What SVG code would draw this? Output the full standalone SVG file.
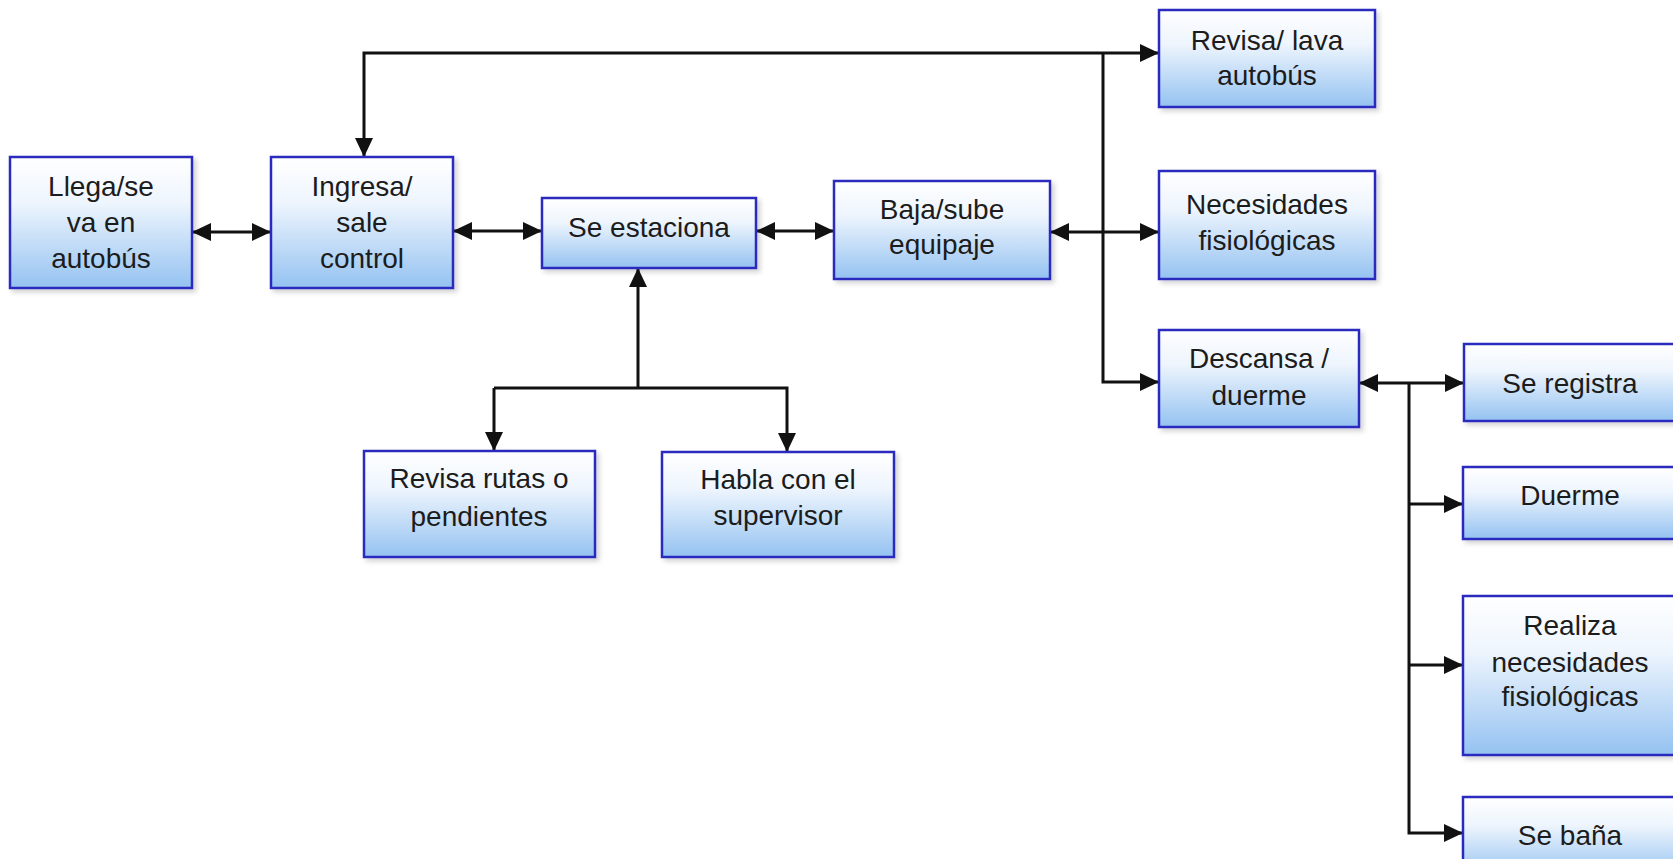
<svg xmlns="http://www.w3.org/2000/svg" width="1673" height="859" viewBox="0 0 1673 859">
  <defs>
    <linearGradient id="boxFill" x1="0" y1="0" x2="0" y2="1">
      <stop offset="0" stop-color="#ffffff"/>
      <stop offset="0.35" stop-color="#eef5fd"/>
      <stop offset="1" stop-color="#94c2f1"/>
    </linearGradient>
    <filter id="shadow" x="-10%" y="-10%" width="130%" height="130%">
      <feDropShadow dx="3" dy="3" stdDeviation="2.5" flood-color="#000" flood-opacity="0.18"/>
    </filter>
    <marker id="arrow" markerUnits="userSpaceOnUse" markerWidth="20" markerHeight="19" refX="19" refY="9" orient="auto-start-reverse">
      <path d="M0,0 L19,9 L0,18 z" fill="#111"/>
    </marker>
    <style>
      .box { fill: url(#boxFill); stroke: #2c2cbf; stroke-width: 2.5; filter: url(#shadow); }
      .label { font-family: "Liberation Sans", Arial, sans-serif; font-size: 28px; fill: #1c1c1c; text-anchor: middle; }
      .conn { fill: none; stroke: #111; stroke-width: 3; }
      .end { marker-end: url(#arrow); }
      .both { marker-start: url(#arrow); marker-end: url(#arrow); }
    </style>
  </defs>
  <rect width="1673" height="859" fill="#ffffff"/>

  <!-- connectors -->
  <g id="connectors">
    <path class="conn both" d="M192,232 H271"/>
    <path class="conn both" d="M453,231 H542"/>
    <path class="conn both" d="M756,231 H834"/>
    <path class="conn both" d="M1050,232 H1159"/>
    <path class="conn both" d="M364,157 V53 H1159"/>
    <path class="conn end" d="M1103,53 V382 H1159"/>
    <path class="conn end" d="M638,388 V268"/>
    <path class="conn end" d="M494,388 V451"/>
    <path class="conn end" d="M494,388 H787 V452"/>
    <path class="conn both" d="M1359,383 H1464"/>
    <path class="conn end" d="M1409,383 V833 H1463"/>
    <path class="conn end" d="M1409,504 H1463"/>
    <path class="conn end" d="M1409,665 H1463"/>
  </g>

  <g id="llega">
    <rect class="box" x="10" y="157" width="182" height="131"/>
    <text class="label" x="101" y="196">Llega/se</text>
    <text class="label" x="101" y="232">va en</text>
    <text class="label" x="101" y="268">autobús</text>
  </g>
  <g id="ingresa">
    <rect class="box" x="271" y="157" width="182" height="131"/>
    <text class="label" x="362" y="196">Ingresa/</text>
    <text class="label" x="362" y="232">sale</text>
    <text class="label" x="362" y="268">control</text>
  </g>
  <g id="estaciona">
    <rect class="box" x="542" y="198" width="214" height="70"/>
    <text class="label" x="649" y="237">Se estaciona</text>
  </g>
  <g id="equipaje">
    <rect class="box" x="834" y="181" width="216" height="98"/>
    <text class="label" x="942" y="219">Baja/sube</text>
    <text class="label" x="942" y="254">equipaje</text>
  </g>
  <g id="revisa-lava">
    <rect class="box" x="1159" y="10" width="216" height="97"/>
    <text class="label" x="1267" y="50">Revisa/ lava</text>
    <text class="label" x="1267" y="85">autobús</text>
  </g>
  <g id="necesidades">
    <rect class="box" x="1159" y="171" width="216" height="108"/>
    <text class="label" x="1267" y="214">Necesidades</text>
    <text class="label" x="1267" y="250">fisiológicas</text>
  </g>
  <g id="descansa">
    <rect class="box" x="1159" y="330" width="200" height="97"/>
    <text class="label" x="1259" y="368">Descansa /</text>
    <text class="label" x="1259" y="405">duerme</text>
  </g>
  <g id="revisa-rutas">
    <rect class="box" x="364" y="451" width="231" height="106"/>
    <text class="label" x="479" y="488">Revisa rutas o</text>
    <text class="label" x="479" y="526">pendientes</text>
  </g>
  <g id="habla">
    <rect class="box" x="662" y="452" width="232" height="105"/>
    <text class="label" x="778" y="489">Habla con el</text>
    <text class="label" x="778" y="525">supervisor</text>
  </g>
  <g id="registra">
    <rect class="box" x="1464" y="344" width="214" height="77"/>
    <text class="label" x="1570" y="393">Se registra</text>
  </g>
  <g id="duerme">
    <rect class="box" x="1463" y="467" width="215" height="72"/>
    <text class="label" x="1570" y="505">Duerme</text>
  </g>
  <g id="realiza">
    <rect class="box" x="1463" y="596" width="215" height="159"/>
    <text class="label" x="1570" y="635">Realiza</text>
    <text class="label" x="1570" y="672">necesidades</text>
    <text class="label" x="1570" y="706">fisiológicas</text>
  </g>
  <g id="bana">
    <rect class="box" x="1463" y="797" width="215" height="80"/>
    <text class="label" x="1570" y="845">Se baña</text>
  </g>
</svg>
